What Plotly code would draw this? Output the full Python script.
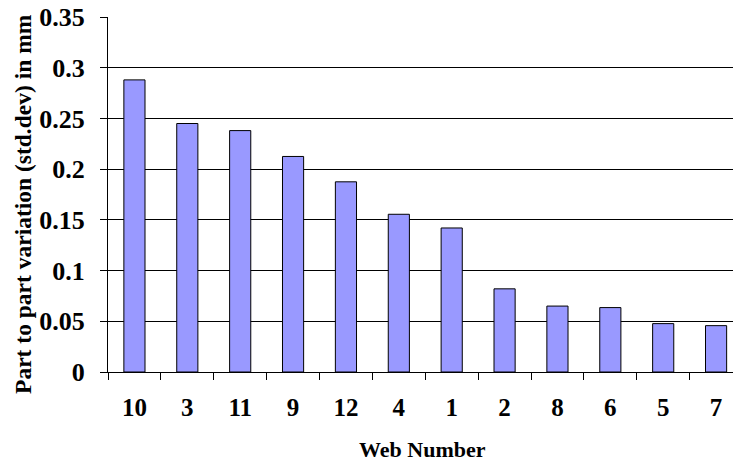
import plotly.graph_objects as go

web_numbers = ["10", "3", "11", "9", "12", "4", "1", "2", "8", "6", "5", "7"]
std_dev_mm = [0.288, 0.245, 0.238, 0.2125, 0.1875, 0.1555, 0.142, 0.082, 0.065, 0.0635, 0.0477, 0.0457]
y_ticks = [0, 0.05, 0.1, 0.15, 0.2, 0.25, 0.3, 0.35]
y_tick_labels = ["0", "0.05", "0.1", "0.15", "0.2", "0.25", "0.3", "0.35"]

FONT = "Liberation Serif"

fig = go.Figure()
fig.add_trace(go.Bar(
    x=web_numbers,
    y=std_dev_mm,
    width=0.4,
    marker=dict(color="#9999FF", line=dict(color="black", width=1)),
))

fig.update_layout(
    width=733,
    height=463,
    margin=dict(l=107.5, r=0, t=17.3, b=91),
    paper_bgcolor="white",
    plot_bgcolor="white",
    showlegend=False,
    font=dict(family=FONT, color="black", weight="bold"),
    xaxis=dict(
        type="category",
        range=[-0.5, 11.32],
        tickson="boundaries",
        ticks="outside",
        ticklen=7,
        tickcolor="black",
        tickwidth=1,
        showline=True,
        linecolor="black",
        linewidth=1,
        showgrid=False,
        tickfont=dict(family=FONT, size=25, color="black", weight="bold"),
        ticklabelstandoff=13,
    ),
    yaxis=dict(
        range=[0, 0.35],
        tickvals=y_ticks,
        ticktext=y_tick_labels,
        ticks="outside",
        ticklen=7,
        tickcolor="black",
        tickwidth=1,
        showline=True,
        linecolor="black",
        linewidth=1,
        showgrid=True,
        gridcolor="black",
        gridwidth=1,
        zeroline=False,
        tickfont=dict(family=FONT, size=26, color="black", weight="bold"),
        ticklabelstandoff=10,
    ),
    annotations=[
        dict(
            text="Web Number",
            xref="paper", yref="paper",
            x=(422 - 107.5) / (733 - 107.5), y=-(449 - 372) / (372 - 17.3),
            xanchor="center", yanchor="middle",
            showarrow=False,
            font=dict(family=FONT, size=22, color="black", weight="bold"),
        ),
        dict(
            text="Part to part variation (std.dev) in mm",
            xref="paper", yref="paper",
            x=-(107.5 - 22.5) / (733 - 107.5), y=(372 - 204) / (372 - 17.3),
            xanchor="center", yanchor="middle",
            textangle=-90,
            showarrow=False,
            font=dict(family=FONT, size=23.5, color="black", weight="bold"),
        ),
    ],
)

fig.write_html(
    "out.html",
    config={"displayModeBar": False},
    post_script="document.body.style.margin='0';document.body.style.overflow='hidden';",
)
